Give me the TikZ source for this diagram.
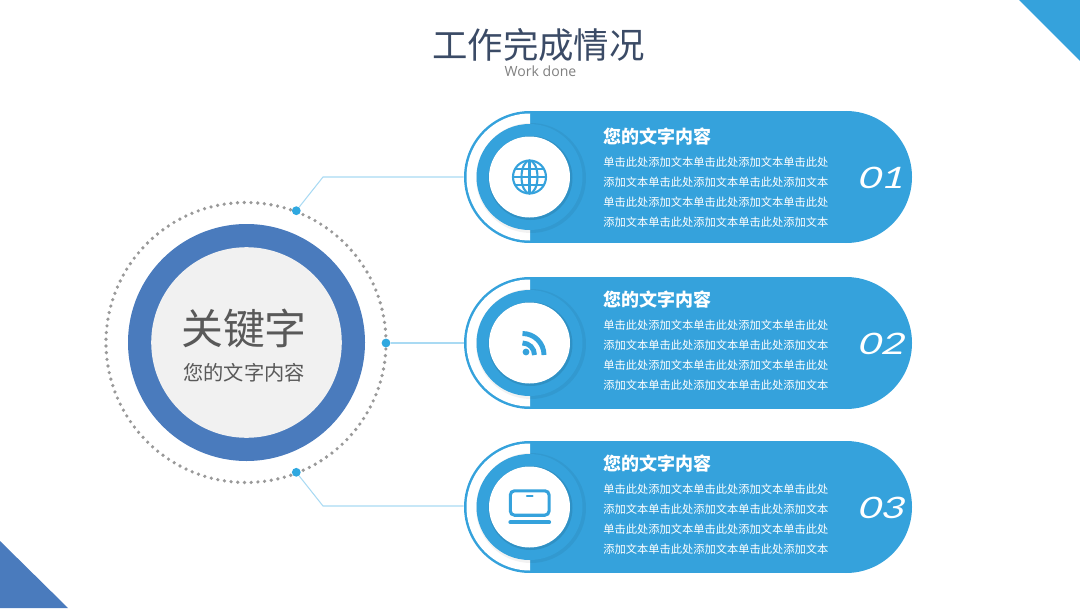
\documentclass[tikz,border=0pt]{standalone}
\usepackage{fontspec}
\setmainfont{Noto Sans CJK SC}
\newfontfamily\latinfont{Open Sans}
\newfontfamily\numfont[FakeStretch=1.35,FakeSlant=0.28]{Lato}
\definecolor{pillblue}{HTML}{35A2DC}
\definecolor{ringblue}{HTML}{4A7BBD}
\definecolor{corefill}{HTML}{F1F1F1}
\definecolor{linkblue}{HTML}{A9DAF3}
\definecolor{dotblue}{HTML}{2FA8E0}
\definecolor{titlecol}{HTML}{3B4B66}
\definecolor{keycol}{HTML}{595959}
\newcommand{\fillA}{单击此处添加文本单击此处添加文本单击此处}
\newcommand{\fillB}{添加文本单击此处添加文本单击此处添加文本}
\tikzset{
  bodyline/.style={anchor=west,inner sep=0pt,text=white,font=\fontsize{8}{8}\selectfont},
  headline/.style={anchor=west,inner sep=0pt,text=white,font=\fontsize{12.8}{12.8}\selectfont\bfseries},
  numtext/.style={inner sep=0pt,text=white,font=\fontsize{21}{21}\numfont\selectfont},
  linkline/.style={draw=linkblue,line width=0.75pt},
  joint/.style={circle,fill=dotblue,inner sep=0pt,minimum size=0.22cm},
  icon/.style={draw=pillblue,line width=1.5pt},
}
\begin{document}
\begin{tikzpicture}[x=0.025cm,y=0.025cm]
\useasboundingbox (0,0) rectangle (1080,608);
% corners
\fill[pillblue] (1019,608) -- (1080,608) -- (1080,547) -- cycle;
\fill[ringblue] (0,67) -- (0,0) -- (68,0) -- cycle;
% title
\node[inner sep=0pt,text=titlecol,font=\fontsize{25.2}{25.2}\selectfont] (title) at (538.5,563) {工作完成情况};
\node[inner sep=0pt,text=gray,font=\fontsize{10}{10}\latinfont\selectfont] (subtitle) at (540.5,537) {Work done};
% centre circle
\draw[gray!80,line width=2.6pt,line cap=round,dash pattern=on 0pt off 4.777pt] (246,265.5) circle (140);
\fill[ringblue] (246.5,265.5) circle (118.5);
\fill[corefill] (246.5,265.5) circle (95.3);
\node[inner sep=0pt,text=keycol,font=\fontsize{29.8}{29.8}\selectfont] (keyword) at (244,279) {关键字};
\node[inner sep=0pt,text=keycol,font=\fontsize{14.4}{14.4}\selectfont] (keysub) at (244,235) {您的文字内容};
% pills
\foreach \y/\dy/\n/\num in {431/3/a/01,265/0/b/02,101/0/c/03}{
  \fill[pillblue] (530,\y) circle (66);
  \fill[pillblue] (846,\y) circle (66);
  \fill[pillblue] (530,\y-66) rectangle (846,\y+66);
  \fill[white] (530,\y+63.5) arc (90:270:63.5) -- cycle;
  \fill[black,opacity=0.05] (531,\y-1) circle (55);
  \fill[pillblue] (529.5,\y) circle (53);
  \fill[black,opacity=0.10] (530.5,\y-1) circle (42);
  \fill[white] (529.5,\y) circle (40.5);
  \node[circle,inner sep=0pt,minimum size=3.3cm] (ring\n) at (530,\y) {};
  \node[headline] (head\n) at (603,\y+43-\dy) {您的文字内容};
  \node[bodyline] (text\n1) at (603,\y+18-\dy) {\fillA};
  \node[bodyline] (text\n2) at (603,\y-2-\dy) {\fillB};
  \node[bodyline] (text\n3) at (603,\y-22-\dy) {\fillA};
  \node[bodyline] (text\n4) at (603,\y-42-\dy) {\fillB};
  \node[numtext] (num\n) at (880,\y-1) {\num};
}
% connectors
\node[joint] (jointa) at (296.3,397.3) {};
\node[joint] (jointb) at (386,265) {};
\node[joint] (jointc) at (296.3,135.7) {};
\coordinate (benda) at (323,431);
\coordinate (bendc) at (323,102);
\draw[linkline] (jointa) -- (benda) -- (ringa.west);
\draw[linkline] (jointb) -- (ringb.west);
\draw[linkline] (jointc) -- (bendc) -- (ringc.west |- bendc);
% globe
\draw[icon] (529.5,431) circle (16.5);
\draw[icon] (529.5,431) ellipse (8 and 16.5);
\draw[icon] (529.5,447.5) -- (529.5,414.5);
\draw[icon] (513,431) -- (546,431);
\draw[icon] (515,439) -- (544,439);
\draw[icon] (515,423) -- (544,423);
% rss
\fill[pillblue] (526,256) circle (3.4);
\draw[pillblue,line width=3.5pt] (522.5,274.5) arc (90:0:21.5);
\draw[pillblue,line width=3.5pt] (522.5,265) arc (90:0:12);
% laptop
\draw[pillblue,line width=2.2pt,rounded corners=3pt] (510.3,117.2) rectangle (549.1,92.8);
\draw[pillblue,line width=1.6pt,line cap=round] (527,112) -- (532.5,112);
\draw[pillblue,line width=3pt,line cap=round] (510.5,85.7) -- (549,85.7);
\end{tikzpicture}
\end{document}
